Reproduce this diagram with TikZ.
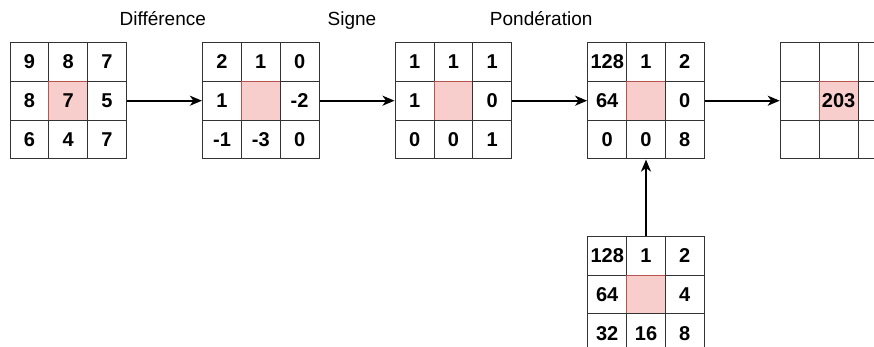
\documentclass[tikz,border=0pt]{standalone}
\usepackage{fontspec}
\setmainfont{Liberation Sans}
\usetikzlibrary{matrix,positioning,arrows.meta}
\definecolor{pinkfill}{HTML}{F8CECC}
\definecolor{pinkline}{HTML}{B85450}
\definecolor{gridline}{HTML}{333333}
\tikzset{cell/.style={draw=gridline,line width=1pt,minimum size=38.8pt,inner sep=0pt,anchor=center,font=\bfseries\fontsize{20}{24}\selectfont},
 mid/.style={fill=pinkfill,draw=pinkline},
 grid/.style={matrix of nodes,nodes in empty cells,inner sep=0pt,column sep=-1pt,row sep=-1pt,nodes={cell}},
 ar/.style={-{Stealth[length=12pt,width=10pt,inset=3.5pt]},line width=1.8pt},
 ttl/.style={font=\fontsize{19}{23}\selectfont,anchor=base}}

\begin{document}
\begin{tikzpicture}[x=1pt,y=-1pt,node distance=74.8pt]
\useasboundingbox (0,0) rectangle (874,347);
\matrix[grid](g1) at (68.2,100.7){9&8&7\\8&|[mid]|7&5\\6&4&7\\};
\matrix[grid,right=of g1](g2){2&1&0\\1&|[mid]|&-2\\-1&-3&0\\};
\matrix[grid,right=of g2](g3){1&1&1\\1&|[mid]|&0\\0&0&1\\};
\matrix[grid,right=of g3](g4){128&1&2\\64&|[mid]|&0\\0&0&8\\};
\matrix[grid,right=of g4](g5){&&\\&|[mid]|203&\\&&\\};
\matrix[grid,below=76pt of g4](g6){128&1&2\\64&|[mid]|&4\\32&16&8\\};
\node[ttl](tdif) at (162.8,26){Différence};
\node[ttl](tsig) at (352,26){Signe};
\node[ttl](tpon) at (541.2,26){Pondération};
\foreach\x/\y in {g1/g2,g2/g3,g3/g4,g4/g5}{\draw[ar](\x)--(\y);}
\draw[ar](g6)--(g4);
\end{tikzpicture}
\end{document}
